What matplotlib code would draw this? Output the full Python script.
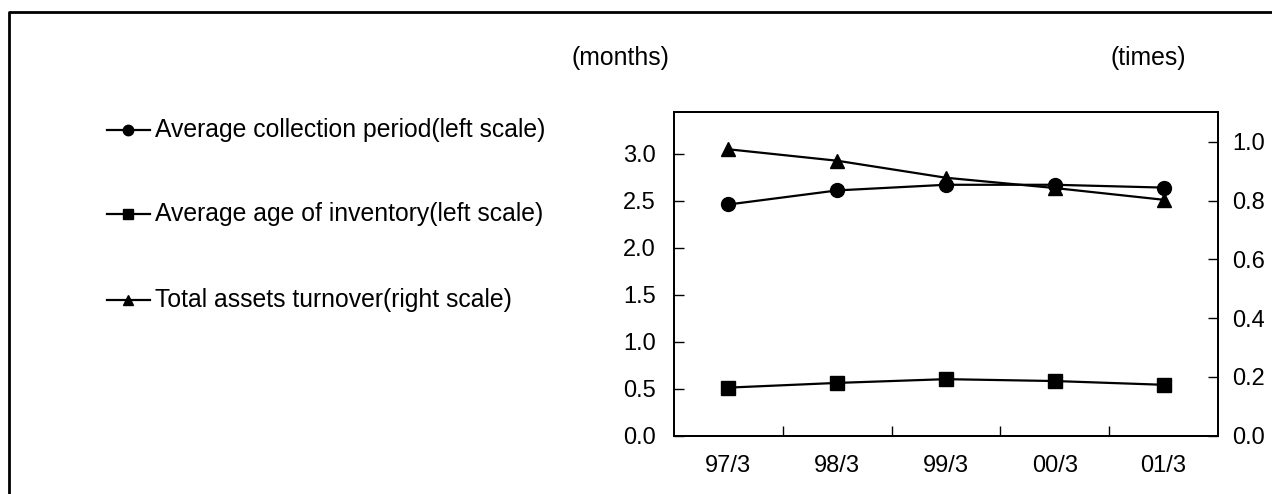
import matplotlib
matplotlib.use("Agg")
import matplotlib.pyplot as plt
from matplotlib.lines import Line2D

plt.rcParams['font.family'] = ['Liberation Sans', 'DejaVu Sans']

periods = ['97/3', '98/3', '99/3', '00/3', '01/3']
collection = [2.46, 2.61, 2.67, 2.67, 2.64]
inventory = [0.51, 0.56, 0.60, 0.58, 0.54]
turnover = [0.975, 0.936, 0.878, 0.843, 0.803]
names = ['Average collection period(left scale)',
         'Average age of inventory(left scale)',
         'Total assets turnover(right scale)']
left_ticks = [0.0, 0.5, 1.0, 1.5, 2.0, 2.5, 3.0]
right_ticks = [0.0, 0.2, 0.4, 0.6, 0.8, 1.0]

W, H = 1272, 494
fs_text = 17.8
fs_tick = 17

fig = plt.figure(figsize=(W / 100, H / 100), dpi=100)
ax = fig.add_axes([674 / W, 1 - 435.5 / H, (1218 - 674) / W, (435.5 - 112) / H])
ax2 = ax.twinx()

x = list(range(len(periods)))
ax.plot(x, collection, color='black', lw=1.6, marker='o', ms=10, zorder=3)
ax.plot(x, inventory, color='black', lw=1.6, marker='s', ms=9.5, zorder=3)
ax2.plot(x, turnover, color='black', lw=1.6, marker='^', ms=10, zorder=3)

ax.set_xlim(-0.5, len(periods) - 0.5)
ax.set_ylim(0, 3.445)
ax2.set_ylim(0, 1.102)

ax.set_xticks([i + 0.5 for i in range(len(periods) - 1)])
ax.set_xticklabels([])
ax.set_xticks(x, minor=True)
ax.set_xticklabels(periods, minor=True, fontsize=fs_tick)
ax.tick_params(axis='x', which='major', direction='in', length=7, width=1)
ax.tick_params(axis='x', which='minor', length=0, pad=14)

ax.set_yticks(left_ticks)
ax.set_yticklabels(['%.1f' % v for v in left_ticks], fontsize=fs_tick)
ax.tick_params(axis='y', direction='in', length=7, width=1, pad=13)
ax2.set_yticks(right_ticks)
ax2.set_yticklabels(['%.1f' % v for v in right_ticks], fontsize=fs_tick)
ax2.tick_params(axis='y', direction='in', length=7, width=1, pad=10)

for a in (ax, ax2):
    for s in a.spines.values():
        s.set_linewidth(1.4)

fig.text(620 / W, 1 - 58 / H, '(months)', ha='center', va='center', fontsize=fs_text)
fig.text(1148 / W, 1 - 58 / H, '(times)', ha='center', va='center', fontsize=fs_text)

# legend drawn by hand at the left
markers = ['o', 's', '^']
rows = [130, 214, 300]
for m, name, yy in zip(markers, names, rows):
    yf = 1 - yy / H
    fig.add_artist(Line2D([107 / W, 128 / W, 150 / W], [yf, yf, yf],
                          color='black', lw=1.6, marker=m, ms=7.5, markevery=[1]))
    fig.text(155 / W, yf, name, ha='left', va='center', fontsize=fs_text)

# outer frame (top and left only)
fig.add_artist(Line2D([9 / W, 9 / W, 1], [0, 1 - 12 / H, 1 - 12 / H],
                      color='black', lw=2))

fig.savefig('out.png', dpi=100)
